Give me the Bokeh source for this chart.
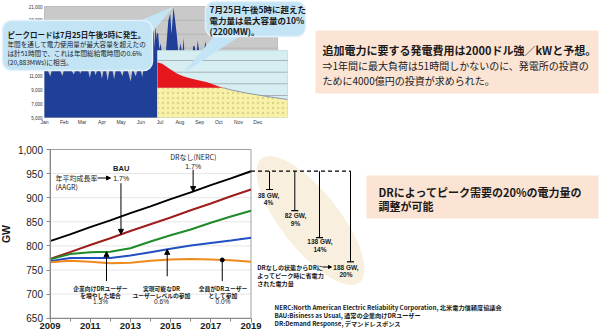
import numpy as np
from bokeh.plotting import figure
from bokeh.models import Range1d, LinearAxis, FixedTicker, NumeralTickFormatter, Arrow, NormalHead
from bokeh.core.properties import value
from bokeh.embed import file_html
from bokeh.resources import INLINE

# ---------------- data: main chart (peak demand, GW) ----------------
years = [2009, 2010, 2011, 2012, 2013, 2014, 2015, 2016, 2017, 2018, 2019]
nerc_no_dr = [810, 824, 839, 853, 868, 882, 897, 911, 926, 940, 955]
bau = [773, 787, 802, 816, 831, 845, 859, 874, 888, 903, 917]
dr_business = [772, 783, 787, 788, 795, 809, 822, 834, 848, 861, 873]
dr_achievable = [768, 775, 775, 775, 780, 787, 794, 801, 806, 811, 817]
dr_full = [766, 769, 767, 764, 765, 769, 772, 773, 772, 770, 767]
y_ticks = [650, 700, 750, 800, 850, 900, 950, 1000]
x_ticks = [2009, 2011, 2013, 2015, 2017, 2019]
dr_savings_gw = [38, 82, 138, 188]
dr_savings_pct = [4, 9, 14, 20]

# ---------------- data: top chart (load, MW) ----------------
load_day = [0, 4, 9, 12, 18, 24, 28, 31, 36, 41, 46, 49, 53, 56, 59, 64, 68, 71, 74, 77,
            80, 83, 87, 90, 93, 96, 99, 102, 106, 109, 112, 117, 122, 125, 130, 135, 138, 143, 146, 150,
            153, 156, 160, 163, 165, 167, 169, 171, 172, 174, 175, 176, 178, 180, 182, 184, 186, 190, 194, 197,
            199, 202, 204, 207, 210, 213, 216, 218, 219, 222, 226, 230, 232, 233, 235, 238, 240, 243, 246, 249,
            252, 255, 258, 262, 270, 300, 330, 365]
load_mw = [12000, 12050, 10900, 12000, 12100, 11900, 11000, 12000, 12100, 11950, 11200, 12000, 12050, 11300, 12000, 12100, 11950, 10700, 12000, 12050,
           11100, 12000, 11950, 10600, 12050, 12000, 10300, 11950, 12050, 10500, 12000, 12100, 11000, 12000, 11900, 10200, 12050, 10900, 12100, 12300,
           10800, 12400, 12800, 13500, 14200, 13600, 16500, 17800, 15000, 18500, 16200, 17200, 17100, 14800, 15700, 14200, 14000, 14300, 19000, 20000,
           17000, 20900, 19500, 17100, 14000, 15700, 14200, 16500, 14500, 14000, 14200, 14000, 14400, 15300, 15300, 14000, 16100, 14000, 14200, 14000,
           16000, 14000, 13800, 13500, 13000, 12000, 11800, 12000]
dur_hr = [0, 317, 654, 991, 1327, 1772, 2446, 3349, 4131, 4440, 4919, 6045, 7392, 8740]
dur_mw = [12970, 12740, 12250, 11780, 11300, 10910, 10520, 10090, 9470, 9290, 8990, 8500, 8030, 7600]
capacity_mw = 9290
mw_ticks = [5000, 7000, 9000, 11000, 13000, 15000, 17000, 19000, 21000]
mw_tick_labels = ["5,000", "7,000", "9,000", "11,000", "13,000", "15,000", "17,000", "19,000", "21,000"]
month_labels = ["Jan", "Feb", "Mar", "Apr", "May", "Jun", "Jul", "Aug", "Sep", "Oct", "Nov", "Dec"]
month_start = [0, 31, 59, 90, 120, 151, 181, 212, 243, 273, 304, 334]
inset_grid_mw = [6490, 8170, 9860, 11530, 13220]

JP = "Noto Sans CJK JP"
LAT = "Liberation Sans"
INK = "#1a1a1a"

p = figure(width=600, height=335,
           x_range=Range1d(2006.537, 2036.388), y_range=Range1d(614.11, 1309.13),
           output_backend="svg", toolbar_location=None,
           x_axis_location=None, y_axis_location=None, min_border=0,
           outline_line_color=None, background_fill_color="white", border_fill_color="white")
p.grid.visible = False
p.extra_x_ranges = {"px": Range1d(0, 600), "day": Range1d(-68.93, 870.98), "hr": Range1d(-10579.4, 29851.3)}
p.extra_y_ranges = {"py": Range1d(335, 0), "mw": Range1d(-26423.4, 21864.9)}


def txt(x, y, s, size, bold=False, align="left", color=INK, font=JP, xr="px", yr="py"):
    p.text(x=[x], y=[y], text=[s], x_range_name=xr, y_range_name=yr,
           text_font=value(font), text_font_size=value(f"{size}px"),
           text_font_style="bold" if bold else "normal",
           text_align=align, text_baseline="middle", text_color=color)


# ================= top chart =================
p.quad(left=0, right=365, bottom=5000, top=21000, x_range_name="day", y_range_name="mw",
       fill_color="#c9c9c9", line_color="#b5b5b5", line_width=0.8)
p.segment(x0=[0] * 7, y0=mw_ticks[1:8], x1=[365] * 7, y1=mw_ticks[1:8],
          x_range_name="day", y_range_name="mw", line_color="#aeaeae", line_width=0.7)
p.varea(x=load_day, y1=[5000] * len(load_day), y2=load_mw, x_range_name="day", y_range_name="mw",
        fill_color="#1f3f98")
# inset: load duration curve
p.quad(left=0, right=8760, bottom=5000, top=14650, x_range_name="hr", y_range_name="mw",
       fill_color="#d6eef1", line_color="#c0dde2", line_width=0.8)
p.segment(x0=[0] * 5, y0=inset_grid_mw, x1=[8760] * 5, y1=inset_grid_mw,
          x_range_name="hr", y_range_name="mw", line_color="#9aa3a8", line_width=0.8)
dur = np.array(dur_mw, dtype=float)
capped = np.minimum(dur, capacity_mw)
p.varea(x=dur_hr, y1=[5000] * len(dur_hr), y2=capped, x_range_name="hr", y_range_name="mw",
        fill_color="#f7f2a8", hatch_pattern="dot", hatch_color="#ddd48a", hatch_scale=5, hatch_weight=0.5)
p.varea(x=dur_hr, y1=capped, y2=dur, x_range_name="hr", y_range_name="mw", fill_color="#e5161c")
p.line(x=dur_hr[9:], y=dur_mw[9:], x_range_name="hr", y_range_name="mw", line_color="#8c98a8", line_width=1)
p.text(x=[-3] * len(mw_ticks), y=mw_ticks, text=mw_tick_labels, x_range_name="day", y_range_name="mw",
       text_font=value(LAT), text_font_size=value("4.5px"), text_align="right", text_baseline="middle",
       text_color="#333333")
p.text(x=month_start, y=[4280] * 12, text=month_labels, x_range_name="day", y_range_name="mw",
       text_font=value(LAT), text_font_size=value("5px"), text_align="center", text_baseline="middle",
       text_color="#333333")

# callouts
CB = "#c3e4f5"
p.patch(x=[135, 173, 150], y=[22, 6, 34], x_range_name="px", y_range_name="py", fill_color=CB, line_color=None)
p.quad(left=2, right=152, top=20, bottom=70, x_range_name="px", y_range_name="py",
       fill_color=CB, line_color="#e3f2fa", line_width=1.5, border_radius=9)
p.patch(x=[215, 182, 242], y=[34, 73, 34], x_range_name="px", y_range_name="py", fill_color=CB, line_color=None)
p.quad(left=205, right=305, top=1, bottom=36, x_range_name="px", y_range_name="py",
       fill_color=CB, line_color="#e3f2fa", line_width=1.5, border_radius=9)
txt(7, 33.5, "ピークロードは7月25日午後5時に発生。", 7.5, bold=True)
txt(7, 43, "年間を通して電力使用量が最大容量を超えたの", 6.6)
txt(7, 52, "は計51時間で、これは年間総給電時間の0.6%", 6.6)
txt(7, 61, "(20,883MWs)に相当。", 6.6)
txt(209, 8.5, "7月25日午後5時に超えた", 8.5, bold=True)
txt(209, 19.5, "電力量は最大容量の10%", 8.5, bold=True)
txt(209, 30.5, "(2200MW)。", 8.5, bold=True)

# top pink box
p.quad(left=315, right=598, top=30, bottom=93, x_range_name="px", y_range_name="py",
       fill_color="#fce4d5", line_color=None)
txt(322, 49, "追加電力に要する発電費用は2000ドル強／kWと予想。", 11, bold=True)
txt(322, 65, "⇒1年間に最大負荷は51時間しかないのに、発電所の投資の", 10)
txt(322, 79.5, "ために4000億円の投資が求められた。", 10)

# ================= main chart =================
p.ellipse(x=[310], y=[220], width=[158], height=[58], angle=-0.9, x_range_name="px", y_range_name="py",
          fill_color="#f8efdf", line_color=None)
gl = [t for t in y_ticks if 650 < t < 1000]
p.segment(x0=[2009] * len(gl), y0=gl, x1=[2019] * len(gl), y1=gl, line_color="#e6e6e6", line_width=1)
p.quad(left=2009, right=2019, bottom=650, top=1000, fill_color=None, line_color="#a0a0a0", line_width=1)

yax = LinearAxis(fixed_location=2009, bounds=(650, 1000), ticker=FixedTicker(ticks=y_ticks),
                 formatter=NumeralTickFormatter(format="0,0"), axis_label="GW")
xax = LinearAxis(fixed_location=650, bounds=(2009, 2019), ticker=FixedTicker(ticks=x_ticks, minor_ticks=years))
for ax in (yax, xax):
    ax.axis_line_color = "#8a8a8a"
    ax.major_tick_line_color = "#8a8a8a"
    ax.minor_tick_line_color = "#8a8a8a"
    ax.major_tick_in = 0
    ax.major_tick_out = 4
    ax.minor_tick_in = 0
    ax.minor_tick_out = 3
    ax.major_label_text_font = LAT
    ax.major_label_text_color = INK
yax.major_label_text_font_size = "10px"
yax.major_label_standoff = 3
yax.axis_label_text_font = LAT
yax.axis_label_text_font_size = "10.5px"
yax.axis_label_text_font_style = "bold"
yax.axis_label_text_color = INK
yax.axis_label_standoff = 3
xax.major_label_text_font_size = "9.5px"
xax.major_label_text_font_style = "bold"
xax.major_label_standoff = 1
p.add_layout(yax, "left")
p.add_layout(xax, "below")

series = [(nerc_no_dr, "#000000"), (bau, "#9e1c1c"), (dr_business, "#1e8a2a"),
          (dr_achievable, "#2250c2"), (dr_full, "#f0891c")]
for vals, col in series:
    p.line(years, vals, line_color=col, line_width=2)

# pointer arrows onto lines
head = dict(size=5, fill_color="black", line_color="black")
arrow_specs = [(2016.12, 958, nerc_no_dr), (2012.53, 930, bau), (2011.81, 727, dr_business),
               (2014.83, 737, dr_achievable)]
for ax_x, y0, vals in arrow_specs:
    y1 = float(np.interp(ax_x, years, vals))
    p.add_layout(Arrow(end=NormalHead(**head), x_start=ax_x, y_start=y0, x_end=ax_x, y_end=y1,
                       line_color="black", line_width=1))
ox = 2017.57
oy = float(np.interp(ox, years, dr_full))
p.segment(x0=[ox], y0=[727], x1=[ox], y1=[oy], line_color="black", line_width=1)
p.scatter(x=[ox], y=[oy], size=4, marker="circle", color="black")

txt(192.7, 156.5, "DRなし(NERC)", 7, align="center")
txt(192.7, 165.5, "1.7%", 7, align="center", font=LAT)
txt(120.7, 168.3, "BAU", 7.5, bold=True, align="center", font=LAT)
txt(120.7, 177.5, "1.7%", 7, align="center", font=LAT)
txt(55, 177.5, "年平均成長率", 7)
txt(55, 186.7, "(AAGR)", 7)
p.add_layout(Arrow(end=NormalHead(size=4, fill_color="black", line_color="black"),
                   x_start=97, y_start=177.5, x_end=110, y_end=177.5,
                   x_range_name="px", y_range_name="py", line_color="black", line_width=1))

txt(100, 288.3, "企業向けDRユーザー", 5.8, bold=True, align="center")
txt(100, 294.5, "を増やした場合", 5.8, bold=True, align="center")
txt(100, 301, "1.3%", 6.5, align="center", font=LAT)
txt(161, 288.3, "実現可能なDR", 5.8, bold=True, align="center")
txt(161, 294.5, "ユーザーレベルの参加", 5.8, bold=True, align="center")
txt(161, 301, "0.6%", 6.5, align="center", font=LAT)
txt(222.5, 288.3, "全員がDRユーザー", 5.8, bold=True, align="center")
txt(222.5, 294.5, "として参加", 5.8, bold=True, align="center")
txt(222.5, 301, "0.0%", 6.5, align="center", font=LAT)

# ================= right side: savings =================
bar_x = [269, 294.3, 319, 350]
peak = nerc_no_dr[-1]
px_2019 = (years[-1] - 2006.537) * 20.1
p.segment(x0=[px_2019], y0=[peak], x1=[bar_x[-1]], y1=[peak], x_range_name="px",
          line_color="black", line_width=1.3, line_dash="4 3")
ends = [peak - s for s in dr_savings_gw]
p.segment(x0=bar_x, y0=[peak] * 4, x1=bar_x, y1=ends, x_range_name="px", line_color="black", line_width=1)
p.scatter(x=bar_x, y=ends, x_range_name="px", marker="dash", size=7, line_color="black", line_width=1.2)
lab_x = [268, 295, 319.5, 345.5]
lab_y = [194.5, 215, 241, 266.7]
for lx, ly, g, pc in zip(lab_x, lab_y, dr_savings_gw, dr_savings_pct):
    txt(lx, ly, f"{g} GW,", 6.5, bold=True, align="center", font=LAT)
    txt(lx, ly + 7.5, f"{pc}%", 6.5, bold=True, align="center", font=LAT)

txt(256.7, 266.7, "DRなしの状態からDRに", 6.1, bold=True)
txt(256.7, 275, "よってピーク時に省電力", 6.1, bold=True)
txt(256.7, 283.3, "された電力量", 6.1, bold=True)
p.add_layout(Arrow(end=NormalHead(size=3, fill_color="black", line_color="black"),
                   x_start=322, y_start=266.5, x_end=331, y_end=266.5,
                   x_range_name="px", y_range_name="py", line_color="black", line_width=1))

p.quad(left=366, right=598, top=175, bottom=218, x_range_name="px", y_range_name="py",
       fill_color="#fce4d5", line_color=None)
txt(378, 191.7, "DRによってピーク需要の20%の電力量の", 11, bold=True)
txt(378, 205, "調整が可能", 11, bold=True)

txt(274, 306.7, "NERC:North American Electric Reliability Corporation, 北米電力信頼度協議会", 6.2, bold=True)
txt(274, 315, "BAU:Bisiness as Usual, 通常の企業向けDRユーザー", 6.2, bold=True)
txt(274, 323.3, "DR:Demand Response, デマンドレスポンス", 6.2, bold=True)

open("out.html", "w").write(file_html(p, INLINE))
